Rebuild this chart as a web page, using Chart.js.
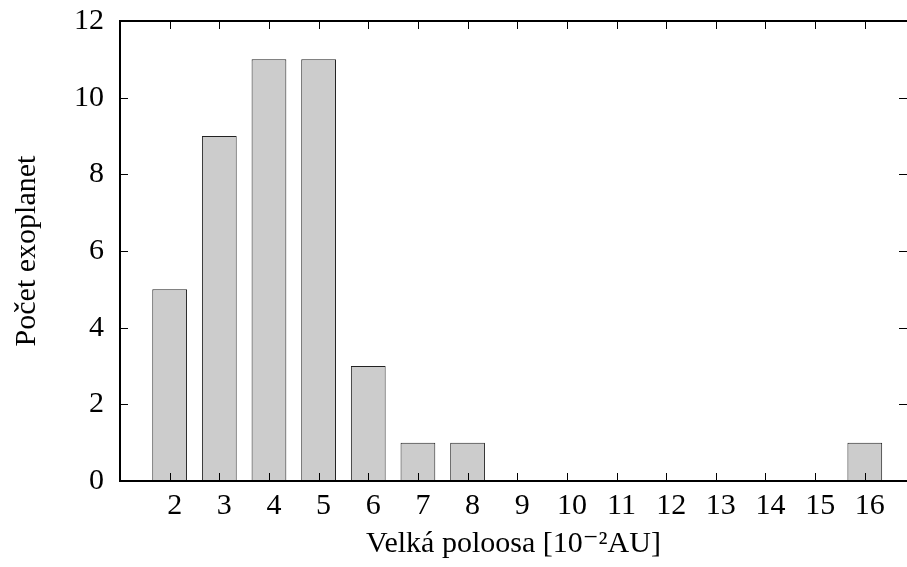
<!DOCTYPE html>
<html>
<head>
<meta charset="utf-8">
<script src="https://cdn.jsdelivr.net/npm/chart.js@4"></script>
<style>
  body { margin: 0; background: #fff; }
</style>
</head>
<body>
<canvas id="chart" width="907" height="567"></canvas>
<script>
// hodnoty z obrázku
const poloosa = [2, 3, 4, 5, 6, 7, 8, 9, 10, 11, 12, 13, 14, 15, 16];
const pocet = [5, 9, 11, 11, 3, 1, 1, 0, 0, 0, 0, 0, 0, 0, 1];
const yTicks = [0, 2, 4, 6, 8, 10, 12];

const font = { family: '"Liberation Serif", "DejaVu Serif", serif', size: 30, lineHeight: 1.2 };

// ramecek a ticky dovnitr (jako gnuplot)
const frame = {
    id: 'frame',
    afterDatasetsDraw(chart) {
        const { ctx, chartArea: a, scales: { x, y } } = chart;
        const len = 8;
        ctx.save();
        ctx.strokeStyle = '#000';
        ctx.lineWidth = 1;
        ctx.beginPath();
        poloosa.forEach(v => {
            const px = Math.round(x.getPixelForValue(v)) + 0.5;
            ctx.moveTo(px, a.bottom); ctx.lineTo(px, a.bottom - len);
            ctx.moveTo(px, a.top); ctx.lineTo(px, a.top + len);
        });
        yTicks.forEach(v => {
            const py = Math.round(y.getPixelForValue(v)) + 0.5;
            ctx.moveTo(a.left, py); ctx.lineTo(a.left + len, py);
            ctx.moveTo(a.right, py); ctx.lineTo(a.right - len, py);
        });
        ctx.stroke();
        ctx.lineWidth = 2;
        ctx.beginPath();
        ctx.moveTo(a.right, a.top);
        ctx.lineTo(a.left, a.top);
        ctx.lineTo(a.left, a.bottom);
        ctx.lineTo(a.right, a.bottom);
        ctx.stroke();
        ctx.restore();
    }
};

const ctx = document.getElementById('chart').getContext('2d');
new Chart(ctx, {
    type: 'bar',
    data: {
        datasets: [{
            data: poloosa.map((v, i) => ({ x: v, y: pocet[i] })),
            backgroundColor: '#cccccc',
            borderColor: '#222',
            borderWidth: 1,
            borderSkipped: false,
            barPercentage: 0.7,
            categoryPercentage: 1
        }]
    },
    options: {
        responsive: false,
        animation: false,
        layout: { padding: { top: 21, right: 0, left: 0, bottom: 0 } },
        plugins: { legend: { display: false }, tooltip: { enabled: false } },
        scales: {
            x: {
                type: 'linear',
                offset: false,
                min: 1,
                max: 16.85,
                afterBuildTicks: s => { s.ticks = poloosa.map(v => ({ value: v })); },
                afterFit: s => { s.height = 86; s.paddingLeft = 0; s.paddingRight = 0; },
                grid: { display: false, drawTicks: false },
                border: { display: false },
                ticks: { color: '#000', font: font, padding: 7, labelOffset: 5, autoSkip: false, maxRotation: 0 },
                title: { display: true, text: 'Velká poloosa [10⁻²AU]', color: '#000', font: font, padding: { top: 0, bottom: 5 } }
            },
            y: {
                min: 0,
                max: 12,
                afterBuildTicks: s => { s.ticks = yTicks.map(v => ({ value: v })); },
                afterFit: s => { s.width = 120; s.paddingTop = 0; s.paddingBottom = 0; },
                grid: { display: false, drawTicks: false },
                border: { display: false },
                ticks: { color: '#000', font: font, padding: 16 },
                title: { display: true, text: 'Počet exoplanet', color: '#000', font: font, padding: { top: 9, bottom: 0 } }
            }
        }
    },
    plugins: [frame]
});
</script>
</body>
</html>
